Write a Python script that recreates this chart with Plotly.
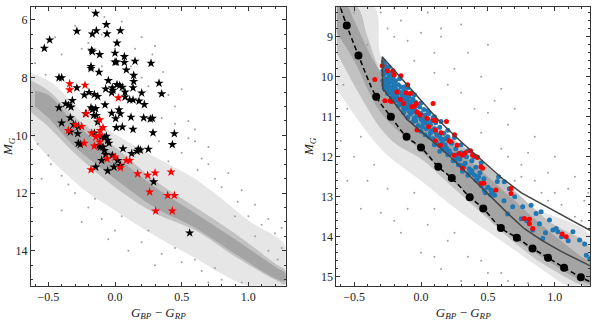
import plotly.graph_objects as go

# ---------------- Left panel data ----------------
blk_x = [
    -0.145, -0.065, -0.286, -0.140, -0.170, -0.060, 0.040, -0.490, -0.530, 0.015,
    -0.175, -0.170, -0.115, 0.000, 0.070, 0.000, 0.010, 0.070, 0.150, 0.270,
    -0.180, -0.180, 0.085, -0.120, 0.140, -0.420, -0.400, 0.140, 0.330, -0.050,
    -0.286, 0.015, 0.035, 0.055, -0.070, -0.020, -0.015, -0.025, 0.135, 0.200,
    0.075, 0.350, -0.195, -0.230, -0.155, -0.130, 0.075, 0.110, 0.135, 0.180,
    0.220, -0.420, -0.370, -0.350, -0.320, -0.330, -0.180, -0.170, -0.145, -0.075,
    0.030, -0.025, 0.040, 0.120, 0.005, -0.220, -0.160, -0.140, -0.335, 0.215,
    0.265, 0.280, -0.130, -0.400, -0.310, -0.275, 0.010, 0.055, 0.135, -0.280,
    -0.335, 0.285, 0.445, -0.155, -0.105, -0.080, -0.065, -0.275, -0.260, -0.120,
    -0.110, -0.090, -0.055, -0.045, 0.430, 0.060, 0.175, 0.190, 0.165, 0.250,
    -0.080, -0.070, 0.125, -0.100, -0.020, 0.020, 0.040, -0.008, -0.145, -0.055,
    0.290, 0.560]
blk_y = [
    5.77, 6.16, 6.39, 6.37, 6.49, 6.48, 6.37, 6.69, 6.98, 6.80,
    7.05, 7.10, 7.20, 7.15, 7.27, 7.46, 7.46, 7.47, 7.43, 7.50,
    7.61, 7.68, 7.73, 7.81, 7.92, 8.00, 8.00, 8.13, 8.19, 8.10,
    8.35, 8.24, 8.27, 8.33, 8.39, 8.35, 8.44, 8.52, 8.35, 8.53,
    8.50, 8.56, 8.51, 8.60, 8.58, 8.65, 8.67, 8.77, 8.77, 8.81,
    8.93, 9.04, 8.90, 8.96, 8.79, 9.02, 9.04, 9.11, 9.07, 8.94,
    9.11, 9.23, 9.25, 9.37, 9.42, 9.25, 9.31, 9.31, 9.39, 9.39,
    9.43, 9.41, 9.54, 9.57, 9.62, 9.69, 9.73, 9.71, 9.79, 9.94,
    9.88, 9.91, 9.94, 9.92, 10.06, 10.08, 10.03, 10.27, 10.31, 10.35,
    10.40, 10.40, 10.17, 10.27, 10.32, 10.46, 10.48, 10.51, 10.55, 10.48,
    10.52, 10.66, 10.63, 10.87, 10.69, 10.87, 11.04, 11.10, 11.10, 11.23,
    11.61, 13.38]

rstar_x = [
    -0.340, -0.340, -0.225, 0.025, -0.215, -0.115, -0.090, -0.295, -0.250, -0.350,
    -0.175, -0.110, -0.115, -0.145, -0.115, -0.155, -0.230, -0.060, 0.000, 0.085,
    0.110, 0.040, -0.180, 0.170, 0.245, 0.300, 0.420, 0.260, 0.395, 0.445,
    0.305, 0.430]
rstar_y = [
    8.21, 8.42, 8.26, 8.70, 9.25, 9.46, 9.73, 9.63, 9.69, 9.83,
    9.92, 9.83, 10.00, 10.06, 10.23, 10.37, 10.27, 10.81, 10.75, 10.87,
    10.87, 11.12, 11.19, 11.33, 11.38, 11.30, 11.27, 11.96, 12.08, 12.08,
    12.62, 12.62]

# gray field-star cloud (left): density envelopes
mid_l_x = [-0.63, -0.5, -0.35, -0.2, 0.0, 0.2, 0.4, 0.6, 0.8, 1.0, 1.28,
           1.28, 1.0, 0.8, 0.6, 0.4, 0.2, 0.0, -0.2, -0.4, -0.55, -0.63]
mid_l_y = [7.85, 8.1, 8.7, 9.4, 9.95, 10.5, 11.0, 11.5, 12.2, 12.95, 13.85,
           15.21, 15.21, 14.8, 14.25, 13.75, 13.2, 12.6, 12.0, 11.2, 10.5, 10.0]
core_l_x = [-0.63, -0.5, -0.3, 0.0, 0.3, 0.6, 0.9, 1.2, 1.28,
            1.28, 1.2, 0.9, 0.6, 0.3, 0.0, -0.3, -0.5, -0.63]
core_l_y = [8.10, 8.45, 9.37, 10.40, 11.56, 12.48, 13.40, 14.44, 14.70,
            15.15, 15.00, 14.20, 13.29, 12.70, 11.80, 10.63, 9.70, 9.20]
ridge_l_x = [-0.6, -0.5, -0.3, 0.0, 0.3, 0.6, 0.9, 1.2, 1.28,
             1.28, 1.2, 0.9, 0.6, 0.3, 0.0, -0.3, -0.5, -0.6]
ridge_l_y = [8.45, 8.60, 9.60, 10.70, 11.80, 12.70, 13.60, 14.55, 14.78,
             15.05, 14.95, 14.10, 13.20, 12.50, 11.50, 10.40, 9.40, 9.00]
sparse_l_x = [-0.30, -0.20, -0.08, 0.05, 0.20, 0.12, -0.40, -0.52, 0.25, 0.36,
              0.45, 0.55, 0.60, 0.70, 0.80, 0.92, 1.00, 1.10, 1.20, 1.25,
              0.65, 0.75, 0.50, 0.40, 0.33, -0.50, -0.40, -0.30, -0.20, -0.10,
              0.00, 0.20, 0.35, 0.50, 0.65, 0.80, -0.55, -0.25, 0.10, -0.45,
              -0.25, -0.10, 0.00, 0.15, 0.28, 0.40, 0.50, 0.60, 0.70, 0.85,
              0.95, 1.05, 1.15, 1.25, 0.55, 0.45, 0.62, 0.90, 1.05, -0.60,
              -0.58, -0.48, -0.35, -0.15, 0.05, 0.25, 0.45, 0.60, 0.75, 0.95,
              -0.40, -0.05, 0.30, 0.70, 1.15, 1.22, 0.20, -0.10, 0.35, 0.30]
sparse_l_y = [6.20, 6.80, 5.90, 6.05, 6.60, 7.60, 7.20, 7.90, 8.30, 7.80,
              9.00, 9.50, 10.20, 11.00, 11.80, 12.30, 12.80, 13.10, 13.40, 13.90,
              10.80, 11.50, 10.60, 10.90, 10.20, 10.70, 11.40, 12.00, 12.50, 12.90,
              13.30, 13.70, 14.10, 14.40, 14.70, 15.00, 11.50, 13.00, 14.00, 6.60,
              7.00, 6.50, 7.00, 7.00, 7.20, 8.60, 8.40, 9.80, 10.40, 11.30,
              11.90, 12.40, 12.90, 13.20, 10.10, 9.60, 11.20, 12.80, 13.50, 7.50,
              10.30, 11.00, 11.70, 12.20, 12.80, 13.30, 13.90, 14.30, 14.60, 15.10,
              12.60, 13.60, 14.50, 15.10, 14.00, 14.30, 8.00, 7.60, 9.40, 6.90]

# ---------------- Right panel data ----------------
wd_x = [-0.555, -0.4675, -0.335, -0.225, -0.108, 0.000, 0.129, 0.230,
        0.364, 0.465, 0.597, 0.716, 0.833, 0.949, 1.069, 1.194]
wd_y = [8.72, 9.47, 10.50, 11.00, 11.50, 11.77, 12.25, 12.53,
        13.01, 13.29, 13.78, 14.02, 14.29, 14.52, 14.77, 15.01]
track_x = [-0.62, -0.555, -0.4675, -0.335, -0.225, -0.108, 0.000, 0.129, 0.230,
           0.364, 0.465, 0.597, 0.716, 0.833, 0.949, 1.069, 1.194, 1.28]
track_y = [8.10, 8.72, 9.47, 10.50, 11.00, 11.50, 11.77, 12.25, 12.53,
           13.01, 13.29, 13.78, 14.02, 14.29, 14.52, 14.77, 15.01, 15.14]

box_x = [1.28, 1.15, 1.05, 0.90, 0.77, 0.65, 0.52, 0.37, 0.22, 0.05, -0.10, -0.20,
         -0.285, -0.29, 0.135, 0.285, 0.43, 0.61, 0.75, 0.86, 1.01, 1.11, 1.28]
box_y = [14.75, 14.54, 14.37, 14.08, 13.79, 13.42, 13.00, 12.50, 12.00, 11.50, 11.08, 10.65,
         10.30, 9.50, 11.10, 11.58, 12.02, 12.55, 12.90, 13.10, 13.38, 13.55, 13.87]

blue_x = [
    -0.28, -0.27, -0.25, -0.28, -0.23, -0.26, -0.21, -0.24, -0.28, -0.19,
    -0.17, -0.22, -0.27, -0.15, -0.20, -0.25, -0.18, -0.13, -0.11, -0.22,
    -0.16, -0.09, -0.20, -0.12, -0.06, -0.15, -0.08, -0.04, -0.17, -0.11,
    -0.05, -0.01, 0.02, -0.13, -0.08, -0.02, 0.03, 0.06, -0.10, -0.05,
    0.00, 0.05, 0.09, -0.06, 0.02, 0.07, 0.11, -0.02, 0.04, 0.10,
    0.14, 0.00, 0.07, 0.12, 0.17, 0.03, 0.09, 0.15, 0.20, 0.12,
    0.18, 0.23, 0.10, 0.16, 0.21, 0.26, 0.14, 0.20, 0.25, 0.30,
    0.24, 0.29, 0.34, 0.28, 0.33, 0.38, 0.31, 0.36, 0.41, 0.35,
    0.40, 0.44, 0.42, 0.47, 0.45, 0.50, 0.48, 0.53, 0.55, 0.57,
    -0.21, -0.10, 0.00, 0.10, 0.20, 0.30, 0.40, -0.16, -0.05, 0.05,
    0.15, 0.25, 0.35, -0.24, -0.27, 0.6225, 0.6475, 0.685, 0.76, 0.8225,
    0.86, 0.8975, 0.96, 0.885, 0.835, 0.91, 0.985, 1.01, 1.0225, 1.135,
    1.185, 1.2225, 1.235, 1.26, 0.535, 0.5225, 0.4725, 0.58, 0.70, 1.10,
    1.05, 0.93, 0.79, 0.75, 0.62, 0.66, 0.45, 0.38, 0.27, 0.18,
    -0.23, -0.19, -0.14, -0.10, -0.07, -0.03, -0.18, -0.24, -0.12, 0.01,
    -0.27, -0.26, -0.24, -0.22, -0.26, -0.20, -0.17, -0.23, -0.14, -0.19,
    -0.15, -0.10, -0.07, -0.13, -0.09, -0.04, -0.01, 0.03, -0.04, 0.01,
    0.05, 0.08, 0.06, 0.11, 0.14, 0.16, 0.14, 0.19, 0.22, 0.18,
    0.27, 0.26, 0.32, 0.30, 0.38, 0.36, 0.43, 0.41, 0.46, 0.52,
    -0.285, -0.285, -0.275, -0.25, -0.23, -0.21, -0.18, -0.16, -0.13, -0.10,
    -0.06, -0.03, 0.00, 0.04, 0.08, -0.20, -0.25, -0.22, -0.12, -0.07]
blue_y = [
    9.62, 9.78, 9.88, 9.95, 9.96, 10.05, 10.02, 10.15, 10.20, 10.10,
    10.20, 10.25, 10.32, 10.26, 10.36, 10.42, 10.46, 10.36, 10.46, 10.52,
    10.56, 10.50, 10.60, 10.61, 10.56, 10.70, 10.70, 10.64, 10.72, 10.80,
    10.81, 10.76, 10.82, 10.90, 10.93, 10.90, 10.96, 10.92, 11.02, 11.03,
    11.06, 11.06, 11.02, 11.12, 11.16, 11.20, 11.15, 11.22, 11.30, 11.30,
    11.26, 11.36, 11.40, 11.46, 11.41, 11.45, 11.55, 11.56, 11.50, 11.66,
    11.70, 11.66, 11.70, 11.80, 11.85, 11.80, 11.86, 11.95, 11.96, 11.90,
    12.10, 12.06, 12.00, 12.20, 12.16, 12.10, 12.36, 12.30, 12.26, 12.46,
    12.46, 12.40, 12.60, 12.55, 12.72, 12.76, 12.90, 12.86, 12.96, 12.62,
    9.92, 10.28, 10.66, 11.00, 11.34, 11.70, 12.00, 10.05, 10.45, 10.85,
    11.12, 11.52, 11.85, 9.75, 10.15, 12.625, 13.43, 13.25, 13.25, 13.21,
    13.42, 13.375, 13.58, 13.67, 13.83, 14.04, 13.83, 13.79, 13.875, 13.875,
    14.08, 14.18, 14.46, 14.55, 12.92, 12.83, 12.83, 12.50, 13.00, 14.10,
    14.00, 13.90, 13.60, 13.55, 13.10, 12.80, 12.15, 12.35, 11.95, 11.55,
    10.10, 10.30, 10.48, 10.62, 10.84, 10.98, 10.60, 10.32, 10.74, 11.10,
    9.70, 9.90, 10.00, 10.12, 10.25, 10.22, 10.35, 10.40, 10.40, 10.50,
    10.62, 10.55, 10.62, 10.80, 10.85, 10.86, 10.98, 11.02, 11.10, 11.25,
    11.18, 11.35, 11.50, 11.38, 11.50, 11.65, 11.72, 11.78, 11.92, 11.85,
    12.00, 12.08, 12.25, 12.22, 12.40, 12.42, 12.50, 12.58, 12.65, 12.95,
    9.85, 10.10, 10.28, 10.20, 10.30, 10.45, 10.56, 10.40, 10.55, 10.72,
    10.88, 10.72, 10.92, 11.12, 11.10, 10.15, 10.10, 9.90, 10.25, 10.40]

red_x = [
    -0.345, -0.29, -0.25, -0.21, -0.15, -0.20, -0.18, -0.11, -0.08, -0.23,
    -0.22, -0.155, -0.13, -0.07, -0.05, -0.035, 0.09, -0.03, -0.005, 0.045,
    0.095, 0.11, 0.0575, 0.1075, 0.19, -0.03, 0.1075, 0.21, 0.22, 0.145,
    0.27, 0.2475, 0.285, 0.31, 0.33, 0.4225, 0.31, 0.4475, 0.385, 0.415,
    0.46, 0.4475, 0.47, 0.56, 0.6725, 0.6725, 0.7725, 0.81, 0.81, 0.835,
    1.055, 1.085, -0.27, -0.10, 0.15, 0.25, 0.37]
red_y = [
    10.07, 9.73, 9.85, 9.85, 9.98, 9.96, 10.38, 10.40, 10.42, 10.60,
    10.62, 10.57, 10.67, 10.75, 10.74, 10.67, 10.67, 10.88, 10.96, 11.04,
    11.08, 11.10, 11.25, 11.33, 11.12, 11.33, 11.60, 11.60, 11.62, 11.71,
    11.71, 11.96, 11.92, 11.96, 11.90, 12.02, 12.29, 12.25, 11.96, 12.00,
    12.29, 12.67, 12.66, 12.83, 12.79, 12.92, 13.54, 13.56, 13.67, 13.79,
    13.93, 14.00, 10.60, 10.20, 11.40, 11.45, 11.85]

mid_r_x = [-0.63, -0.35, -0.3, -0.1, 0.2, 0.5, 0.8, 1.27,
           1.27, 1.1, 0.9, 0.6, 0.3, 0.0, -0.3, -0.63]
mid_r_y = [8.26, 8.26, 9.5, 10.6, 11.5, 12.4, 13.2, 14.0,
           15.22, 15.22, 14.8, 14.1, 13.4, 12.6, 11.8, 10.3]
core_r_x = [-0.63, -0.48, -0.4, -0.3, -0.18, 0.0, 0.2, 0.45, 0.7, 0.95, 1.27,
            1.27, 0.95, 0.7, 0.45, 0.2, 0.0, -0.18, -0.3, -0.45, -0.55, -0.63]
core_r_y = [8.26, 8.26, 9.0, 9.9, 10.5, 10.95, 11.45, 12.1, 12.85, 13.6, 14.3,
            15.22, 14.75, 14.15, 13.4, 12.65, 12.05, 11.7, 11.3, 10.5, 9.9, 9.4]
ridge_r_x = [-0.63, -0.55, -0.5, -0.3, 0.0, 0.3, 0.6, 0.9, 1.2, 1.27,
             1.27, 1.2, 0.9, 0.6, 0.3, 0.0, -0.3, -0.5, -0.63]
ridge_r_y = [8.26, 8.26, 8.60, 9.90, 11.00, 11.90, 12.80, 13.70, 14.50, 14.65,
             15.15, 15.10, 14.50, 13.80, 12.80, 11.85, 10.90, 9.60, 8.90]
sparse_r_x = [-0.30, -0.15, 0.00, 0.10, 0.25, 0.05, 0.30, 0.45, 0.55, 0.65,
              0.80, 0.95, 1.10, 1.22, 0.60, 0.75, 0.40, 0.20, -0.05, -0.20,
              -0.55, -0.45, -0.35, -0.25, -0.10, 0.05, 0.20, 0.35, 0.50, 0.65,
              -0.60, -0.20, 0.10, 1.00, 0.85, 1.15, 0.70, -0.40, 0.15, -0.58,
              -0.50, -0.20, 0.15, 0.35, 0.50, 0.60, 0.70, 0.85, 1.00, 1.15,
              1.25, 0.90, 1.05, 0.50, 0.30, 0.10, -0.10, -0.25, 0.45, 0.65,
              -0.62, -0.50, -0.40, -0.30, -0.15, 0.00, 0.15, 0.30, -0.55, -0.45,
              0.25, 0.45, 0.60, 0.80, 1.10, -0.05, 0.10, 1.20, 0.95, 0.75]
sparse_r_y = [8.40, 8.60, 8.90, 9.40, 9.80, 8.40, 8.70, 10.00, 10.60, 11.20,
              11.90, 12.40, 12.80, 13.10, 11.80, 12.20, 10.80, 10.20, 9.60, 9.00,
              10.80, 11.50, 12.20, 12.80, 13.30, 13.70, 14.10, 14.50, 14.90, 15.10,
              11.60, 13.60, 14.50, 12.90, 12.60, 13.50, 12.60, 9.20, 8.80, 10.20,
              8.40, 8.30, 9.00, 9.40, 9.20, 10.30, 10.80, 11.50, 12.00, 12.50,
              12.90, 12.90, 13.20, 10.90, 10.40, 9.90, 9.10, 8.80, 11.40, 12.00,
              11.00, 12.00, 12.60, 13.40, 13.90, 14.40, 14.80, 15.10, 12.60, 13.30,
              13.90, 14.60, 14.90, 15.15, 15.20, 12.90, 13.30, 13.60, 13.10, 12.50]

# ---------------- Figure ----------------
fig = go.Figure()

def poly(x, y, color, xa, ya):
    fig.add_trace(go.Scatter(x=x, y=y, mode="lines", fill="toself", fillcolor=color,
                             line=dict(width=0, color=color), hoverinfo="skip",
                             line_shape="spline", xaxis=xa, yaxis=ya))

# left
poly(mid_l_x, mid_l_y, "#e6e6e6", "x", "y")
poly(core_l_x, core_l_y, "#c2c2c2", "x", "y")
poly(ridge_l_x, ridge_l_y, "#a4a4a4", "x", "y")
fig.add_trace(go.Scatter(x=sparse_l_x, y=sparse_l_y, mode="markers",
                         marker=dict(size=2, color="#a0a0a0"), xaxis="x", yaxis="y"))
fig.add_trace(go.Scatter(x=blk_x, y=blk_y, mode="markers",
                         marker=dict(symbol="star", size=7, color="black"), xaxis="x", yaxis="y"))
fig.add_trace(go.Scatter(x=rstar_x, y=rstar_y, mode="markers",
                         marker=dict(symbol="star", size=7, color="#ff0000"), xaxis="x", yaxis="y"))

# right
poly(mid_r_x, mid_r_y, "#e6e6e6", "x2", "y2")
poly(core_r_x, core_r_y, "#c2c2c2", "x2", "y2")
poly(ridge_r_x, ridge_r_y, "#a4a4a4", "x2", "y2")
fig.add_trace(go.Scatter(x=sparse_r_x, y=sparse_r_y, mode="markers",
                         marker=dict(size=2, color="#a0a0a0"), xaxis="x2", yaxis="y2"))
fig.add_trace(go.Scatter(x=blue_x, y=blue_y, mode="markers",
                         marker=dict(size=5, color="#1f77b4"), xaxis="x2", yaxis="y2"))
fig.add_trace(go.Scatter(x=red_x, y=red_y, mode="markers",
                         marker=dict(size=5, color="#ff0000"), xaxis="x2", yaxis="y2"))
fig.add_trace(go.Scatter(x=box_x, y=box_y, mode="lines",
                         line=dict(color="#444444", width=1.5), xaxis="x2", yaxis="y2"))
fig.add_trace(go.Scatter(x=track_x, y=track_y, mode="lines",
                         line=dict(color="black", width=1.5, dash="5px,3px", shape="spline"),
                         xaxis="x2", yaxis="y2"))
fig.add_trace(go.Scatter(x=wd_x, y=wd_y, mode="markers",
                         marker=dict(size=8, color="black"), xaxis="x2", yaxis="y2"))

font = "Liberation Serif"
common = dict(showline=True, linecolor="#333333", linewidth=1, mirror="allticks",
              ticks="inside", ticklen=4, tickcolor="#333333", showgrid=False,
              zeroline=False, tickfont=dict(family=font, size=12, color="#222222"))
xtitle = dict(text="<i>G</i><sub><i>BP</i></sub> − <i>G</i><sub><i>RP</i></sub>",
              font=dict(family=font, size=13, color="#222222"), standoff=4)
ytitle = dict(text="<i>M</i><sub><i>G</i></sub>",
              font=dict(family=font, size=13, color="#222222"), standoff=4)

ydom = [1 - 285.7 / 326, 1 - 7 / 326]
fig.update_layout(
    width=598, height=326, margin=dict(l=0, r=0, t=0, b=0),
    paper_bgcolor="white", plot_bgcolor="white", showlegend=False,
    xaxis=dict(domain=[31 / 598, 285.7 / 598], range=[-0.63, 1.28], anchor="y",
               tickmode="linear", tick0=0, dtick=0.5, tickformat=".1f",
               minor=dict(ticks="inside", ticklen=2, dtick=0.1, tick0=0, tickcolor="#333333"),
               title=xtitle, **common),
    yaxis=dict(domain=ydom, range=[15.21, 5.55], anchor="x",
               tickmode="linear", tick0=0, dtick=2,
               minor=dict(ticks="inside", ticklen=2, dtick=0.5, tick0=0, tickcolor="#333333"),
               title=ytitle, **common),
    xaxis2=dict(domain=[336.3 / 598, 590.3 / 598], range=[-0.633, 1.265], anchor="y2",
                tickmode="linear", tick0=0, dtick=0.5, tickformat=".1f",
                minor=dict(ticks="inside", ticklen=2, dtick=0.1, tick0=0, tickcolor="#333333"),
                title=xtitle, **common),
    yaxis2=dict(domain=ydom, range=[15.22, 8.26], anchor="x2",
                tickmode="linear", tick0=0, dtick=1,
                minor=dict(ticks="inside", ticklen=2, dtick=0.2, tick0=0, tickcolor="#333333"),
                title=ytitle, **common),
)

fig.write_html("out.html", config={"displayModeBar": False},
               post_script="document.body.style.margin='0px';document.body.style.overflow='hidden';")
